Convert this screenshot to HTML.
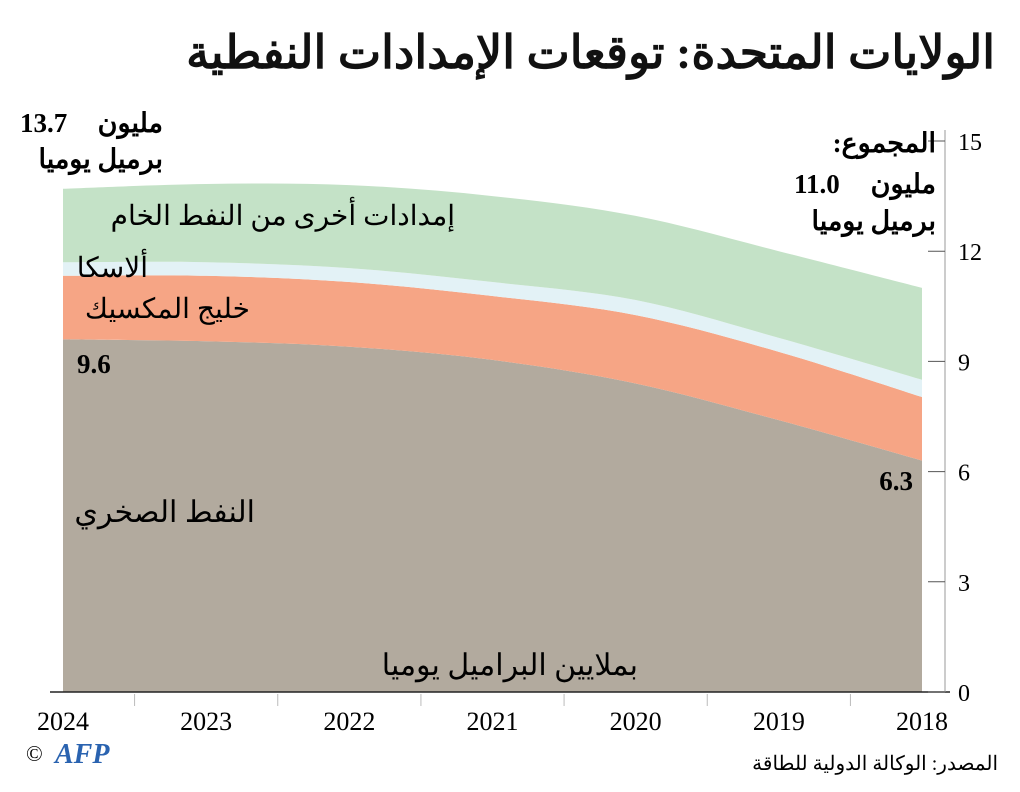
<!DOCTYPE html>
<html><head><meta charset="utf-8"><style>
body{margin:0;background:#fff;width:1020px;height:792px;overflow:hidden}
svg{display:block}
text{font-family:"Liberation Serif","Noto Serif CJK SC","DejaVu Serif",serif}
</style></head><body>
<svg id="chart" width="1020" height="792">
<text x="995" y="68" text-anchor="start" font-size="46" font-weight="bold" fill="#111" direction="rtl">الولايات المتحدة: توقعات الإمدادات النفطية</text>
<g id="areas"></g>
<g id="axes"></g>
<text x="20" y="132" font-size="27" font-weight="bold">13.7</text>
<text x="163" y="132" text-anchor="start" font-size="27" font-weight="bold" direction="rtl">مليون</text>
<text x="163" y="168" text-anchor="start" font-size="27" font-weight="bold" direction="rtl">برميل يوميا</text>
<text x="936" y="152" text-anchor="start" font-size="27" font-weight="bold" direction="rtl">المجموع:</text>
<text x="794" y="193" font-size="27" font-weight="bold">11.0</text>
<text x="936" y="193" text-anchor="start" font-size="27" font-weight="bold" direction="rtl">مليون</text>
<text x="936" y="230" text-anchor="start" font-size="27" font-weight="bold" direction="rtl">برميل يوميا</text>
<text x="455" y="225" text-anchor="start" font-size="28" direction="rtl">إمدادات أخرى من النفط الخام</text>
<text x="148" y="277" text-anchor="start" font-size="28" direction="rtl">ألاسكا</text>
<text x="250" y="318" text-anchor="start" font-size="28" direction="rtl">خليج المكسيك</text>
<text x="77" y="373" font-size="27" font-weight="bold">9.6</text>
<text x="913" y="490" text-anchor="end" font-size="27" font-weight="bold">6.3</text>
<text x="255" y="522" text-anchor="start" font-size="30" direction="rtl">النفط الصخري</text>
<text x="638" y="675" text-anchor="start" font-size="30" direction="rtl">بملايين البراميل يوميا</text>
<text x="26" y="761" font-size="22">©</text>
<text x="55" y="763" font-size="28" font-weight="bold" font-style="italic" fill="#2a63b0" font-family="Liberation Sans,sans-serif">AFP</text>
<text x="998" y="770" text-anchor="start" font-size="20" direction="rtl">المصدر: الوكالة الدولية للطاقة</text>
</svg>
<script>
const years = [2018, 2019, 2020, 2021, 2022, 2023, 2024];
const shale = [6.3, 7.4, 8.4, 9.04, 9.4, 9.55, 9.6];
const gulf = [1.73, 1.86, 1.86, 1.74, 1.76, 1.78, 1.73];
const alaska = [0.47, 0.38, 0.41, 0.38, 0.38, 0.37, 0.37];
const other = [2.5, 2.36, 2.29, 2.34, 2.26, 2.13, 2.0];
const yTicks = [0, 3, 6, 9, 12, 15];

const NS = "http://www.w3.org/2000/svg";
const x = i => 922 - i * (922 - 63) / (years.length - 1);
const y = v => 692 - v * (692 - 141) / 15;
function mk(tag, attrs, parent) { const e = document.createElementNS(NS, tag); for (const k in attrs) e.setAttribute(k, attrs[k]); parent.appendChild(e); return e; }
function curve(pts) {
  let d = "";
  for (let i = 0; i < pts.length - 1; i++) {
    const p0 = pts[Math.max(i - 1, 0)], p1 = pts[i], p2 = pts[i + 1], p3 = pts[Math.min(i + 2, pts.length - 1)];
    const c1 = [p1[0] + (p2[0] - p0[0]) / 6, p1[1] + (p2[1] - p0[1]) / 6];
    const c2 = [p2[0] - (p3[0] - p1[0]) / 6, p2[1] - (p3[1] - p1[1]) / 6];
    d += ` C${c1[0]},${c1[1]} ${c2[0]},${c2[1]} ${p2[0]},${p2[1]}`;
  }
  return d;
}
const series = [shale, gulf, alaska, other];
const colors = ["#b2aa9e", "#f6a585", "#e3f2f6", "#c4e2c7"];
const names = ["area-shale-oil", "area-gulf-of-mexico", "area-alaska", "area-other-crude"];
const areas = document.getElementById("areas");
let base = years.map(() => 0);
series.forEach((s, k) => {
  const top = base.map((b, i) => b + s[i]);
  const tp = top.map((v, i) => [x(i), y(v)]);
  const bp = base.map((v, i) => [x(i), y(v)]).reverse();
  const d = `M${tp[0][0]},${tp[0][1]}` + curve(tp) + ` L${bp[0][0]},${bp[0][1]}` + curve(bp) + "Z";
  const p = mk("path", { d: d, fill: colors[k] }, areas);
  
  
  base = top;
});
const axes = document.getElementById("axes");
const xl = mk("line", { x1: 50, x2: 950, y1: 692, y2: 692, stroke: "#222", "stroke-width": 1.5 }, axes);


const yl = mk("line", { x1: 945, x2: 945, y1: 130, y2: 692, stroke: "#999", "stroke-width": 1 }, axes);


yTicks.forEach(t => {
  const tl = mk("line", { x1: 928, x2: 945, y1: y(t), y2: y(t), stroke: "#555" }, axes);
  
  
  const tx = mk("text", { x: 958, y: y(t) + 9, "font-size": 24 }, axes);
  tx.textContent = t;
  
  
});
years.forEach((yr, i) => {
  const tx = mk("text", { x: x(i), y: 730, "font-size": 26, "text-anchor": "middle" }, axes);
  tx.textContent = yr;
  
  
  if (i < years.length - 1) {
    const mx = (x(i) + x(i + 1)) / 2;
    const tl = mk("line", { x1: mx, x2: mx, y1: 694, y2: 706, stroke: "#bbb" }, axes);
    
    
  }
});
</script>
</body></html>
